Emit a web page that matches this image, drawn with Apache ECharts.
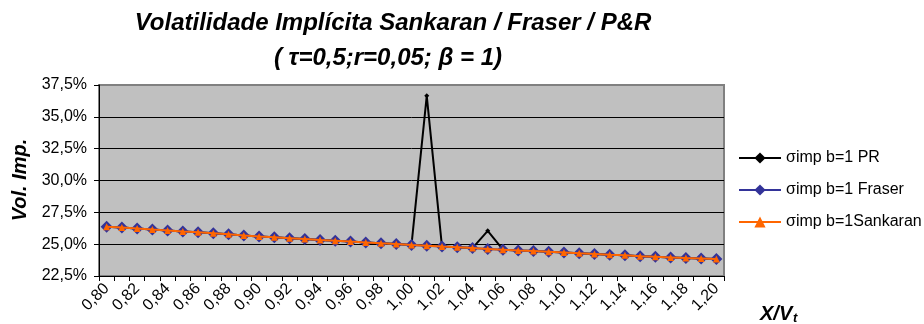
<!DOCTYPE html>
<html><head><meta charset="utf-8">
<script src="https://cdn.jsdelivr.net/npm/echarts@6/dist/echarts.min.js"></script>
<style>html,body{margin:0;padding:0;background:#fff}#c{width:924px;height:324px}</style>
</head><body><div id="c"></div>
<script>
const categories = ['0,80','0,81','0,82','0,83','0,84','0,85','0,86','0,87','0,88','0,89',
  '0,90','0,91','0,92','0,93','0,94','0,95','0,96','0,97','0,98','0,99',
  '1,00','1,01','1,02','1,03','1,04','1,05','1,06','1,07','1,08','1,09',
  '1,10','1,11','1,12','1,13','1,14','1,15','1,16','1,17','1,18','1,19','1,20'];
const seriesNames = ['σimp b=1 PR', 'σimp b=1 Fraser', 'σimp b=1Sankaran'];
const volPR = [26.37,26.30,26.23,26.15,26.08,26.00,25.93,25.85,25.77,25.69,
  25.61,25.54,25.47,25.40,25.33,25.27,25.20,25.14,25.07,25.01,
  24.94,36.65,24.81,24.75,24.69,26.05,24.57,24.51,24.46,24.40,
  24.34,24.28,24.23,24.17,24.12,24.06,24.01,23.96,23.91,23.87,23.83];
const volFraser = [26.37,26.30,26.23,26.15,26.08,26.00,25.93,25.85,25.77,25.69,
  25.61,25.54,25.47,25.40,25.33,25.27,25.20,25.14,25.07,25.01,
  24.94,24.88,24.81,24.75,24.69,24.63,24.57,24.51,24.46,24.40,
  24.34,24.28,24.23,24.17,24.12,24.06,24.01,23.96,23.91,23.87,23.83];
const volSankaran = [26.37,26.30,26.23,26.15,26.08,26.00,25.93,25.85,25.77,25.69,
  25.61,25.54,25.47,25.40,25.33,25.27,25.20,25.14,25.07,25.01,
  24.94,24.88,24.81,24.75,24.69,24.63,24.57,24.51,24.46,24.40,
  24.34,24.28,24.23,24.17,24.12,24.06,24.01,23.96,23.91,23.87,23.83];
const yMin = 22.5, yMax = 37.5, yStep = 2.5;
const titleLine1 = 'Volatilidade Implícita Sankaran / Fraser / P&R';
const titleLine2 = '( τ=0,5;r=0,05; β = 1)';
const yName = 'Vol. Imp.';
const xName = 'X/V';
const xNameSub = 't';

const FONT = "'Liberation Sans', Arial, sans-serif";
const chart = echarts.init(document.getElementById('c'), null, {renderer: 'canvas'});
function txt(text, x, y, size, opts) {
  opts = opts || {};
  return Object.assign({
    type: 'text', x: x, y: y, silent: true,
    style: {
      text: text, font: 'italic bold ' + size + 'px ' + FONT, fill: '#000',
      align: opts.align || 'left', textAlign: opts.align || 'left',
      verticalAlign: opts.va || 'top', textVerticalAlign: opts.va || 'top'
    }
  }, opts.extra || {});
}
const option = {
  animation: false,
  backgroundColor: '#ffffff',
  grid: {left: 99, right: 200, top: 85, bottom: 48, show: true,
    backgroundColor: '#C0C0C0', borderColor: '#808080', borderWidth: 2},
  xAxis: {
    type: 'category', data: categories, boundaryGap: true,
    axisLine: {lineStyle: {color: '#000', width: 1}},
    axisTick: {show: true, interval: 0, length: 5, lineStyle: {color: '#000'}},
    axisLabel: {interval: 1, rotate: 45, fontSize: 16, color: '#000', fontFamily: FONT, margin: 10},
    splitLine: {show: false}
  },
  yAxis: {
    type: 'value', min: yMin, max: yMax, interval: yStep,
    axisLine: {show: true, lineStyle: {color: '#000', width: 1}},
    axisTick: {show: true, length: 5, lineStyle: {color: '#000'}},
    axisLabel: {formatter: v => v.toFixed(1).replace('.', ',') + '%', fontSize: 16,
      color: '#000', fontFamily: FONT, margin: 12},
    splitLine: {show: true, showMaxLine: false, showMinLine: false, lineStyle: {color: '#000', width: 1}}
  },
  legend: {
    orient: 'vertical', left: 733, top: 144, itemWidth: 42, itemHeight: 14, itemGap: 14,
    textStyle: {fontSize: 16, color: '#000', fontFamily: FONT, lineHeight: 18},
    data: seriesNames
  },
  series: [
    {name: seriesNames[0], type: 'line', data: volPR, symbol: 'diamond', symbolSize: 5,
      showAllSymbol: true,
      lineStyle: {color: '#000', width: 2}, itemStyle: {color: '#000'}, z: 2},
    {name: seriesNames[1], type: 'line', data: volFraser, symbol: 'diamond', symbolSize: 12,
      showAllSymbol: true,
      lineStyle: {color: '#333399', width: 2}, itemStyle: {color: '#333399'}, z: 3},
    {name: seriesNames[2], type: 'line', data: volSankaran, symbol: 'triangle', symbolSize: 7,
      showAllSymbol: true,
      lineStyle: {color: '#FF6600', width: 2}, itemStyle: {color: '#FF6600'}, z: 4}
  ],
  graphic: [
    txt(titleLine1, 393, 11, 24, {align: 'center'}),
    txt(titleLine2, 388, 46, 24, {align: 'center'}),
    txt(yName, 20, 180, 20, {align: 'center', va: 'middle', extra: {rotation: Math.PI / 2}}),
    txt(xName, 760, 304, 20),
    txt(xNameSub, 793, 312, 13)
  ]
};
chart.setOption(option);
</script></body></html>
